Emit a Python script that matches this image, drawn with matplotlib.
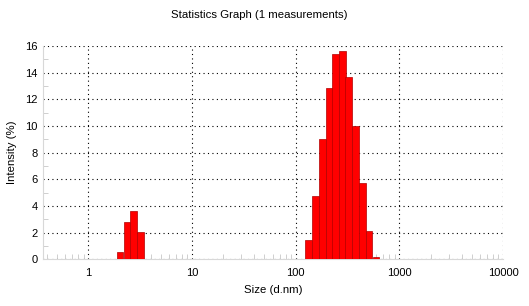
import numpy as np
import matplotlib
matplotlib.use("Agg")
import matplotlib.pyplot as plt
from matplotlib.ticker import FixedLocator, NullFormatter

plt.rcParams['font.family'] = ['Liberation Sans', 'DejaVu Sans']

# size class centres (d.nm) and intensity (%)
small_sizes = [2.02, 2.36, 2.74, 3.19]
small_int = [0.54, 2.79, 3.66, 2.08]
big_sizes = [134, 156, 181, 212, 244, 281, 326, 378, 440, 510, 597]
big_int = [1.46, 4.75, 9.02, 12.87, 15.37, 15.64, 13.7, 10.0, 5.7, 2.13, 0.16]

sizes = np.array(small_sizes + big_sizes)
intensity = np.array(small_int + big_int)

yticks = [0, 2, 4, 6, 8, 10, 12, 14, 16]
xticks = [1, 10, 100, 1000, 10000]
xticklabels = ['1', '10', '100', '1000', '10000']

r = np.sqrt(10 ** 0.0655)  # half bin ratio in log space
left = sizes / r
right = sizes * r

fig = plt.figure(figsize=(5.29, 3.06), dpi=100)
ax = fig.add_axes([43 / 529, 1 - 259.3 / 306, 460 / 529, 213.3 / 306])

ax.bar(left, intensity, width=right - left, align='edge',
       color='#ff0000', edgecolor='#b00000', linewidth=0.5, zorder=3)

ax.set_xscale('log')
ax.set_xlim(0.366, 10000)
ax.set_ylim(0, 16)

ax.set_xticks(xticks)
ax.set_xticklabels(xticklabels)
ax.set_yticks(yticks)
minor_x = [m * 10.0 ** e for e in range(-1, 4) for m in range(2, 10)]
minor_x = [v for v in minor_x if 0.366 < v < 10000]
ax.xaxis.set_minor_locator(FixedLocator(minor_x))
ax.xaxis.set_minor_formatter(NullFormatter())
ax.yaxis.set_minor_locator(FixedLocator([1, 3, 5, 7, 9, 11, 13, 15]))

ax.tick_params(which='major', length=0, labelsize=8, colors='black')
ax.tick_params(axis='x', which='major', pad=6)
ax.tick_params(axis='y', which='major', pad=4)
ax.tick_params(which='minor', length=3.5, width=0.6, direction='in', color='#c8c8c8')

ax.grid(True, which='major', color='black', linestyle=(0, (1, 3)), linewidth=0.8)
ax.set_axisbelow(True)

for s in ['top', 'right']:
    ax.spines[s].set_visible(False)
for s in ['left', 'bottom']:
    ax.spines[s].set_color('#d8d8d8')
    ax.spines[s].set_linewidth(0.8)

ax.set_xlabel('Size (d.nm)', fontsize=8.2, labelpad=5)
ax.set_ylabel('Intensity (%)', fontsize=8.2, labelpad=6)
fig.text(259 / 529, 1 - 15 / 306, 'Statistics Graph (1 measurements)',
         fontsize=8.2, ha='center', va='center')

fig.savefig('out.png', dpi=100)
